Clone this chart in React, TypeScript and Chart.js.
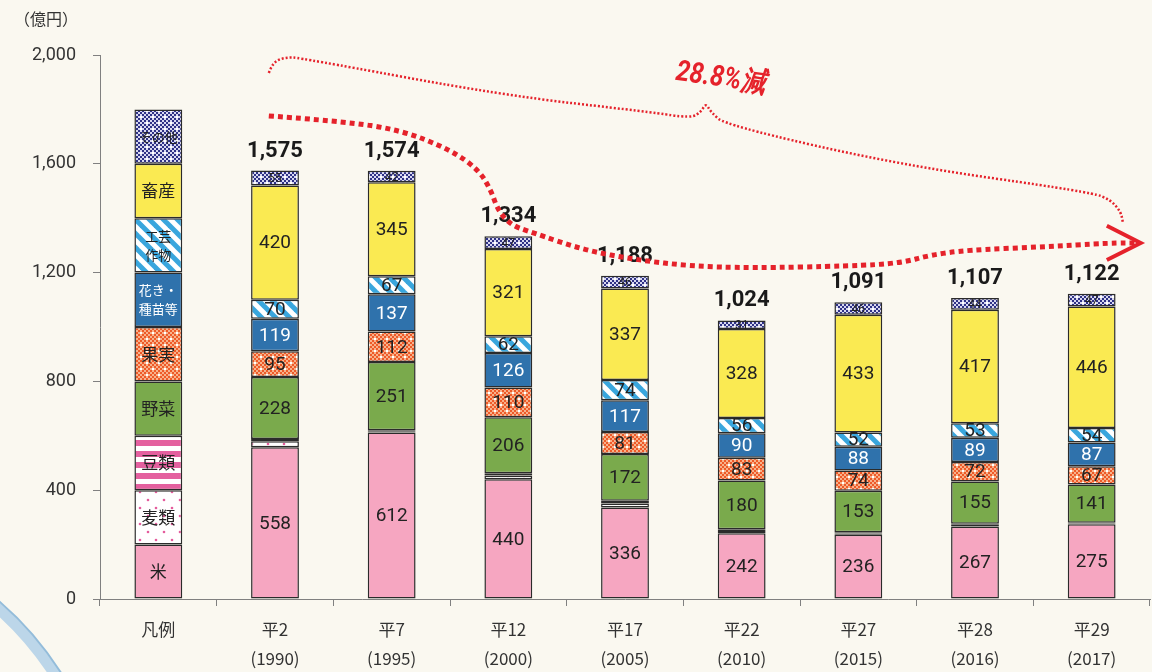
import React, { useEffect, useRef } from 'react';
import { Chart, registerables } from 'chart.js';

Chart.register(...registerables);

// ---------- data ----------
const categories: string[][] = [
  ['凡例'],
  ['平2', '(1990)'],
  ['平7', '(1995)'],
  ['平12', '(2000)'],
  ['平17', '(2005)'],
  ['平22', '(2010)'],
  ['平27', '(2015)'],
  ['平28', '(2016)'],
  ['平29', '(2017)'],
];

const seriesNames = ['米', '麦類', '豆類', '野菜', '果実', '花き・種苗等', '工芸作物', '畜産', 'その他'];
const legendLabels: string[][] = [
  ['米'], ['麦類'], ['豆類'], ['野菜'], ['果実'], ['花き・', '種苗等'], ['工芸', '作物'], ['畜産'], ['その他'],
];
const legendSegment = 200;

const rice = [558, 612, 440, 336, 242, 236, 267, 275];
const wheat = [22, 5, 14, 15, 8, 5, 6, 3];
const beans = [8, 3, 8, 10, 6, 4, 4, 2];
const vegetables = [228, 251, 206, 172, 180, 153, 155, 141];
const fruit = [95, 112, 110, 81, 83, 74, 72, 67];
const flowers = [119, 137, 126, 117, 90, 88, 89, 87];
const industrial = [70, 67, 62, 74, 56, 52, 53, 54];
const livestock = [420, 345, 321, 337, 328, 433, 417, 446];
const others = [55, 42, 47, 46, 31, 46, 44, 47];
const totals = [1575, 1574, 1334, 1188, 1024, 1091, 1107, 1122];

const yMax = 2000;
const yStep = 400;

const annotationText = '28.8%減';
// annotation paths in (category index, value) space
const arrowPath: number[][] = [
  [0.947, 1776], [1.564, 1757], [2.079, 1724], [2.507, 1651], [2.747, 1577], [2.85, 1504],
  [2.91, 1430], [3.021, 1375], [3.193, 1349], [3.647, 1283], [4.11, 1246], [4.564, 1224],
  [5.079, 1217], [5.936, 1224], [6.364, 1235], [6.621, 1265], [6.938, 1283], [7.564, 1294],
  [8.164, 1309], [8.40, 1309],
];
const arrowHead: number[][] = [[8.13, 1372], [8.42, 1309], [8.13, 1246]];
const bracePath: number[][] = [
  [0.947, 1934], [0.981, 1974], [1.093, 1992], [1.221, 1989], [2.936, 1853], [4.221, 1790],
  [4.564, 1768], [4.65, 1790], [4.693, 1823], [4.736, 1790], [4.864, 1742], [6.364, 1595],
  [7.993, 1496], [8.164, 1467], [8.25, 1423], [8.267, 1386],
];
const annotationPos = [4.82, 1912];

const seriesValues = [rice, wheat, beans, vegetables, fruit, flowers, industrial, livestock, others];
const showValue = [true, false, false, true, true, true, true, true, true];
const valueColor = ['#222', '#222', '#222', '#222', '#222', '#ffffff', '#222', '#222', '#222'];
const legendTextColor = ['#222', '#222', '#222', '#222', '#222', '#ffffff', '#222', '#222', '#222'];
const legendFontSize = [17, 17, 17, 17, 17, 13, 13, 17, 13];

// ---------- patterns ----------
function makeFill(kind: string): any {
  const c = document.createElement('canvas');
  const ctx = c.getContext('2d')!;
  switch (kind) {
    case 'rice':
      return '#F6A6C1';
    case 'veg':
      return '#7AAA4C';
    case 'flowers':
      return '#2F72AC';
    case 'livestock':
      return '#FAEA52';
    case 'wheat': {
      c.width = 16; c.height = 16;
      ctx.fillStyle = '#ffffff'; ctx.fillRect(0, 0, 16, 16);
      ctx.fillStyle = '#E45C9C';
      ctx.beginPath(); ctx.arc(4, 4, 1.3, 0, Math.PI * 2); ctx.fill();
      ctx.beginPath(); ctx.arc(12, 12, 1.3, 0, Math.PI * 2); ctx.fill();
      break;
    }
    case 'beans': {
      c.width = 8; c.height = 11;
      ctx.fillStyle = '#ffffff'; ctx.fillRect(0, 0, 8, 11);
      ctx.fillStyle = '#E4609F'; ctx.fillRect(0, 0, 8, 6);
      break;
    }
    case 'fruit': {
      c.width = 12; c.height = 12;
      ctx.fillStyle = '#F7B28C'; ctx.fillRect(0, 0, 12, 12);
      ctx.fillStyle = '#EE5A28';
      for (let yy = 0; yy < 12; yy += 2) for (let xx = 0; xx < 12; xx += 2) {
        if (((xx + yy) / 2) % 2 === 0) ctx.fillRect(xx, yy, 2, 2);
      }
      ctx.fillStyle = '#ffffff';
      ctx.fillRect(2, 2, 2, 2); ctx.fillRect(8, 8, 2, 2);
      break;
    }
    case 'industrial': {
      c.width = 14; c.height = 14;
      ctx.fillStyle = '#ffffff'; ctx.fillRect(0, 0, 14, 14);
      ctx.strokeStyle = '#39A6DD'; ctx.lineWidth = 5;
      for (const off of [-14, 0, 14]) {
        ctx.beginPath(); ctx.moveTo(off - 2, -2); ctx.lineTo(off + 16, 16); ctx.stroke();
      }
      break;
    }
    case 'others': {
      c.width = 12; c.height = 12;
      ctx.fillStyle = '#D8D8F0'; ctx.fillRect(0, 0, 12, 12);
      ctx.fillStyle = '#2F3286';
      for (let yy = 0; yy < 12; yy += 2) for (let xx = 0; xx < 12; xx += 2) {
        if (((xx + yy) / 2) % 2 === 0) ctx.fillRect(xx, yy, 2, 2);
      }
      ctx.fillStyle = '#ffffff';
      ctx.fillRect(2, 2, 2, 2); ctx.fillRect(8, 8, 2, 2);
      break;
    }
  }
  return ctx.createPattern(c, 'repeat');
}

const fillKinds = ['rice', 'wheat', 'beans', 'veg', 'fruit', 'flowers', 'industrial', 'livestock', 'others'];

const CJK = '"Noto Sans CJK JP", "Noto Sans", sans-serif';
const NUM = 'Roboto, "Liberation Sans", sans-serif';

function smoothPath(ctx: CanvasRenderingContext2D, pts: number[][]) {
  ctx.moveTo(pts[0][0], pts[0][1]);
  for (let i = 1; i < pts.length - 1; i++) {
    const mx = (pts[i][0] + pts[i + 1][0]) / 2;
    const my = (pts[i][1] + pts[i + 1][1]) / 2;
    ctx.quadraticCurveTo(pts[i][0], pts[i][1], mx, my);
  }
  const l = pts[pts.length - 1];
  ctx.lineTo(l[0], l[1]);
}

const overlayPlugin = {
  id: 'overlay',
  beforeDraw(chart: any) {
    const ctx: CanvasRenderingContext2D = chart.ctx;
    ctx.save();
    ctx.fillStyle = '#FAF8F0';
    ctx.fillRect(0, 0, chart.width, chart.height);
    // decorative ring at bottom-left
    ctx.beginPath();
    ctx.arc(-215, 850, 322, -1.1, 0);
    ctx.strokeStyle = '#BCD6E9';
    ctx.lineWidth = 11;
    ctx.stroke();
    ctx.beginPath();
    ctx.arc(-215, 850, 328, -1.1, 0);
    ctx.strokeStyle = '#93BCDA';
    ctx.lineWidth = 2;
    ctx.stroke();
    ctx.restore();
  },
  afterDatasetsDraw(chart: any) {
    const ctx: CanvasRenderingContext2D = chart.ctx;
    const xs = chart.scales.x;
    const ys = chart.scales.y;
    ctx.save();
    ctx.textAlign = 'center';
    ctx.textBaseline = 'middle';
    chart.data.datasets.forEach((ds: any, i: number) => {
      const meta = chart.getDatasetMeta(i);
      meta.data.forEach((el: any, j: number) => {
        const p = el.getProps(['x', 'y', 'base'], true);
        const cy = (p.y + p.base) / 2;
        if (j === 0) {
          const lines = legendLabels[i];
          const fs = legendFontSize[i];
          ctx.font = `${fs}px ${CJK}`;
          ctx.fillStyle = legendTextColor[i];
          const lh = fs * 1.45;
          lines.forEach((t, k) => {
            ctx.fillText(t, p.x, cy + (k - (lines.length - 1) / 2) * lh);
          });
        } else if (showValue[i]) {
          const v = ds.data[j];
          const small = i === 8;
          ctx.font = small ? `12px ${NUM}` : `19px ${NUM}`;
          ctx.fillStyle = valueColor[i];
          ctx.fillText(String(v), p.x, cy + 1);
        }
      });
    });
    // totals
    const lastMeta = chart.getDatasetMeta(chart.data.datasets.length - 1);
    ctx.font = `bold 22px ${NUM}`;
    ctx.fillStyle = '#1a1a1a';
    ctx.textBaseline = 'alphabetic';
    totals.forEach((t, k) => {
      const el = lastMeta.data[k + 1];
      ctx.fillText(t.toLocaleString('en-US'), el.x, el.y - 14);
    });

    // annotations
    const toPx = (pt: number[]) => [xs.getPixelForValue(pt[0]), ys.getPixelForValue(pt[1])];
    ctx.strokeStyle = '#E5222B';
    // thin brace
    ctx.beginPath();
    smoothPath(ctx, bracePath.map(toPx));
    ctx.lineWidth = 2.5;
    ctx.setLineDash([2, 2]);
    ctx.stroke();
    // thick dotted arrow
    ctx.beginPath();
    smoothPath(ctx, arrowPath.map(toPx));
    ctx.lineWidth = 5;
    ctx.setLineDash([5, 4]);
    ctx.stroke();
    ctx.setLineDash([]);
    const ah = arrowHead.map(toPx);
    ctx.beginPath();
    ctx.moveTo(ah[0][0], ah[0][1]);
    ctx.lineTo(ah[1][0], ah[1][1]);
    ctx.lineTo(ah[2][0], ah[2][1]);
    ctx.lineWidth = 4;
    ctx.lineJoin = 'miter';
    ctx.stroke();
    // text
    const tp = toPx(annotationPos);
    ctx.translate(tp[0], tp[1]);
    ctx.rotate(0.14);
    ctx.scale(0.85, 1);
    ctx.font = `italic bold 29px ${NUM}`;
    ctx.fillStyle = '#E5222B';
    ctx.textBaseline = 'middle';
    ctx.fillText(annotationText, 0, 0);
    ctx.restore();
  },
};

export default function App() {
  const ref = useRef<HTMLCanvasElement>(null);
  useEffect(() => {
    if (!ref.current) return;
    const datasets = seriesNames.map((name, i) => ({
      label: name,
      data: [legendSegment, ...seriesValues[i]],
      backgroundColor: makeFill(fillKinds[i]),
      borderColor: '#2b2b2b',
      borderWidth: 1.5,
      borderSkipped: false as const,
      stack: 's',
      categoryPercentage: 1,
      barPercentage: 0.41,
    }));
    const chart = new Chart(ref.current, {
      type: 'bar',
      data: { labels: categories as any, datasets },
      options: {
        responsive: true,
        maintainAspectRatio: false,
        animation: false,
        layout: { padding: { top: 55, right: 2, left: 0, bottom: 0 } },
        plugins: {
          legend: { display: false },
          tooltip: { enabled: false },
          title: { display: false },
        },
        scales: {
          x: {
            stacked: true,
            grid: { drawOnChartArea: false, drawTicks: true, tickLength: 7, color: '#808080', offset: true },
            border: { color: '#808080', width: 1 },
            ticks: {
              color: '#333',
              font: { family: CJK, size: 17, lineHeight: 1.65 },
              padding: 10,
              maxRotation: 0,
              autoSkip: false,
            },
            afterFit: (s: any) => { s.height = 73; },
          },
          y: {
            stacked: true,
            min: 0,
            max: yMax,
            grid: { drawOnChartArea: false, drawTicks: true, tickLength: 7, color: '#808080' },
            border: { color: '#808080', width: 1 },
            ticks: {
              stepSize: yStep,
              color: '#333',
              font: { family: NUM, size: 18 },
              padding: 17,
              callback: (v: any) => Number(v).toLocaleString('en-US'),
            },
            afterFit: (s: any) => { s.width = 100; },
          },
        },
      },
      plugins: [
        overlayPlugin,
        {
          id: 'unit',
          afterDraw(chart: any) {
            const ctx = chart.ctx;
            ctx.save();
            ctx.font = `16px ${CJK}`;
            ctx.fillStyle = '#333';
            ctx.textAlign = 'left';
            ctx.textBaseline = 'middle';
            ctx.fillText('（億円）', chart.chartArea.left - 86, 19);
            ctx.restore();
          },
        },
      ],
    });
    return () => chart.destroy();
  }, []);
  return (
    <div style={{ position: 'fixed', left: 0, top: 0, width: 1152, height: 672 }}>
      <canvas ref={ref} />
    </div>
  );
}
